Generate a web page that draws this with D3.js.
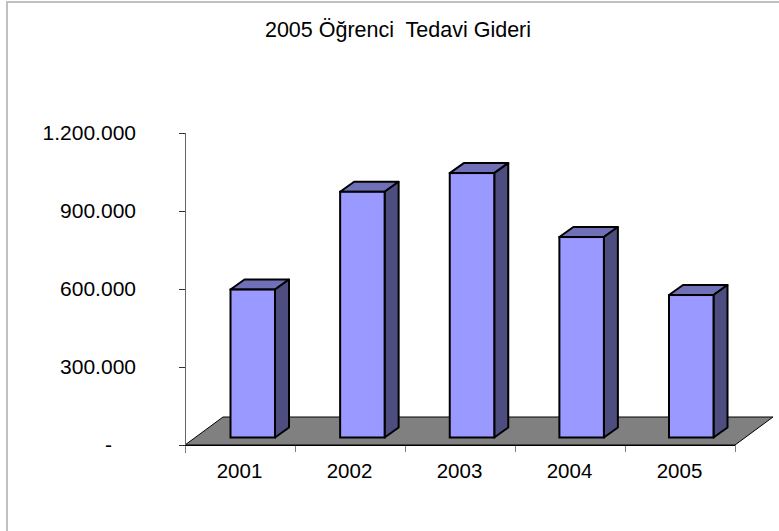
<!DOCTYPE html>
<html><head><meta charset="utf-8">
<script src="https://d3js.org/d3.v7.min.js"></script>
<style>html,body{margin:0;padding:0;background:#fff}svg{display:block}text{font-family:"Liberation Sans",Arial,sans-serif;fill:#000}</style>
</head><body><script>
const years=["2001","2002","2003","2004","2005"];
const values=[569000,945000,1017000,771000,548000];
const yTicks=[0,300000,600000,900000,1200000];
const yTickLabels=["-","300.000","600.000","900.000","1.200.000"];
const chartTitle="2005 Öğrenci  Tedavi Gideri";
const W=779,H=531;
const svg=d3.select("body").append("svg").attr("width",W).attr("height",H);
svg.append("rect").attr("x",7).attr("y",2).attr("width",W+10).attr("height",H+10).attr("fill","#fff").attr("stroke","#c0c0c0").attr("stroke-width",2);
const y=d3.scaleLinear().domain([0,1200000]).range([445,133]);
const x=d3.scaleBand().domain(years).range([185,735]);
const barX=d3.scalePoint().domain(years).range([230.5,669]);
const barW=44.5, fdx=38, fdy=-28, dx=14, dy=-10, lift=7.5;
const line=d3.line();
svg.append("path").attr("d",line([[185,445],[735,445],[735+fdx,445+fdy],[185+fdx,445+fdy]])+"Z").attr("fill","#808080").attr("stroke","#000").attr("stroke-width",1);
const ax=svg.append("g").attr("stroke","#808080").attr("stroke-width",1);
ax.append("line").attr("x1",185.5).attr("x2",185.5).attr("y1",y(1200000)).attr("y2",y(0)+8).attr("stroke","#666");
ax.selectAll(".yt").data(yTicks).join("line").attr("x1",179).attr("x2",185).attr("y1",d=>Math.round(y(d))+.5).attr("y2",d=>Math.round(y(d))+.5).attr("stroke","#333");
ax.selectAll(".xt").data(d3.range(years.length+1)).join("line")
  .attr("x1",i=>185.5+i*x.step()).attr("x2",i=>185.5+i*x.step()).attr("y1",445).attr("y2",452);
svg.append("line").attr("x1",185).attr("x2",735).attr("y1",445.5).attr("y2",445.5).attr("stroke","#000");
const bars=svg.selectAll(".bar").data(years.map((k,i)=>({k,v:values[i]}))).join("g");
const sw=2;
const base=y(0)-lift;
const barTop=d=>y(d.v)-lift;
bars.append("path").attr("d",d=>{const l=barX(d.k),r=l+barW,t=barTop(d);return line([[l,t],[r,t],[r+dx,t+dy],[l+dx,t+dy]])+"Z"}).attr("fill","#7070b8").attr("stroke","#000").attr("stroke-width",sw).attr("stroke-linejoin","round");
bars.append("path").attr("d",d=>{const r=barX(d.k)+barW,t=barTop(d);return line([[r,t],[r+dx,t+dy],[r+dx,base+dy],[r,base]])+"Z"}).attr("fill","#4d4d80").attr("stroke","#000").attr("stroke-width",sw).attr("stroke-linejoin","round");
bars.append("rect").attr("x",d=>barX(d.k)).attr("y",barTop).attr("width",barW).attr("height",d=>base-barTop(d)).attr("fill","#9999ff").attr("stroke","#000").attr("stroke-width",sw);
svg.selectAll(".yl").data(yTicks).join("text").attr("x",d=>d===0?112:136).attr("y",d=>y(d)+6.5).attr("text-anchor","end").attr("font-size",21).text((d,i)=>yTickLabels[i]);
svg.selectAll(".xl").data(years).join("text").attr("x",d=>x(d)+x.bandwidth()/2-0.5).attr("y",477.5).attr("text-anchor","middle").attr("font-size",20.5).text(d=>d);
svg.append("text").attr("x",398).attr("y",37).attr("text-anchor","middle").attr("font-size",21.5).style("white-space","pre").text(chartTitle);
</script></body></html>
